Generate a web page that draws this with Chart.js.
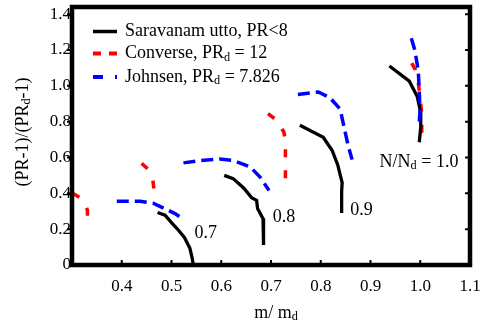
<!DOCTYPE html>
<html>
<head>
<meta charset="utf-8">
<script src="https://cdn.jsdelivr.net/npm/chart.js@4"></script>
<style>
  body { margin: 0; background: #fff; }
  #wrap { width: 481px; height: 326px; position: relative; }
</style>
</head>
<body>
<div id="wrap"><canvas id="mapChart"></canvas></div>
<script>
// Compressor map data: [m/m_d, (PR-1)/(PR_d-1)]
const speedLabels = ['0.7', '0.8', '0.9', 'N/N_d = 1.0'];

// Saravanamuttoo, PR<8 (black solid)
const sarav07 = [[0.472,0.293],[0.487,0.278],[0.500,0.237],[0.514,0.194],[0.526,0.154],[0.537,0.093],[0.541,0.046],[0.544,0.0]];
const sarav08 = [[0.606,0.500],[0.624,0.482],[0.645,0.430],[0.661,0.376],[0.671,0.361],[0.673,0.315],[0.684,0.259],[0.685,0.185],[0.685,0.111]];
const sarav09 = [[0.758,0.780],[0.805,0.713],[0.823,0.639],[0.834,0.560],[0.843,0.460],[0.842,0.410],[0.842,0.290]];
const sarav10 = [[0.938,1.111],[0.978,1.026],[0.994,0.940],[1.001,0.850],[1.001,0.768],[0.998,0.685]];

// Converse, PR_d = 12 (red dashed)
const conv07 = [[0.301,0.400],[0.316,0.376],[0.326,0.343],[0.331,0.306],[0.331,0.262]];
const conv08 = [[0.440,0.567],[0.452,0.537],[0.460,0.500],[0.463,0.463],[0.465,0.417],[0.465,0.370]];
const conv09 = [[0.694,0.845],[0.708,0.815],[0.718,0.778],[0.726,0.741],[0.729,0.694],[0.729,0.600],[0.729,0.435]];
const conv10 = [[0.983,1.127],[0.990,1.090],[0.996,1.020],[0.999,0.950],[1.003,0.843],[1.003,0.715]];

// Johnsen, PR_d = 7.826 (blue dashed)
const john07 = [[0.390,0.356],[0.437,0.356],[0.463,0.345],[0.490,0.310],[0.507,0.287],[0.523,0.257]];
const john08 = [[0.524,0.570],[0.557,0.583],[0.597,0.592],[0.624,0.583],[0.658,0.548],[0.678,0.491],[0.696,0.416]];
const john09 = [[0.754,0.952],[0.795,0.966],[0.818,0.935],[0.839,0.870],[0.847,0.768],[0.855,0.667],[0.863,0.588]];
const john10 = [[0.982,1.265],[0.989,1.200],[0.996,1.085],[0.998,0.972],[0.9995,0.861],[0.998,0.796]];

// where the speed labels sit, in data units
const labelPos = [[0.569,0.179],[0.726,0.268],[0.882,0.303],[0.9975,0.575]];

const xTicks = [0.4, 0.5, 0.6, 0.7, 0.8, 0.9, 1.0];
const yTicks = [0.2, 0.4, 0.6, 0.8, 1.0, 1.2, 1.4];

const SERIF = '"Liberation Serif", "DejaVu Serif", Tinos, serif';

function toPts(arr) {
    return arr.map(p => ({ x: p[0], y: p[1] }));
}

function curve(arr, color, dash, width) {
    return {
        data: toPts(arr),
        showLine: true,
        borderColor: color,
        borderWidth: width,
        borderDash: dash,
        pointRadius: 0,
        tension: 0,
        fill: false
    };
}

// draw text made of [text, isSubscript] parts, starting at x
function drawParts(ctx, parts, x, y, size) {
    parts.forEach(p => {
        const fs = p[1] ? size * 0.68 : size;
        ctx.font = fs + 'px ' + SERIF;
        ctx.fillText(p[0], x, p[1] ? y + size * 0.22 : y);
        x += ctx.measureText(p[0]).width;
    });
    return x;
}

function partsWidth(ctx, parts, size) {
    let w = 0;
    parts.forEach(p => {
        ctx.font = (p[1] ? size * 0.68 : size) + 'px ' + SERIF;
        w += ctx.measureText(p[0]).width;
    });
    return w;
}

const decorPlugin = {
    id: 'decor',
    afterDatasetsDraw(chart) {
        const ctx = chart.ctx;
        const a = chart.chartArea;
        const xs = chart.scales.x, ys = chart.scales.y;
        ctx.save();
        ctx.fillStyle = '#000';
        ctx.strokeStyle = '#000';
        ctx.textBaseline = 'middle';

        // speed labels
        labelPos.forEach((p, i) => {
            const px = xs.getPixelForValue(p[0]), py = ys.getPixelForValue(p[1]);
            let parts = [[speedLabels[i], false]];
            if (i === 3) parts = [['N/N', false], ['d', true], [' = 1.0', false]];
            const w = partsWidth(ctx, parts, 18);
            ctx.textAlign = 'left';
            drawParts(ctx, parts, px - w / 2, py, 18);
        });

        // legend
        const legend = [
            { parts: [['Saravanam utto, PR<8', false]], color: '#000', dash: [] },
            { parts: [['Converse, PR', false], ['d', true], [' = 12', false]], color: '#ff0000', dash: [8, 8] },
            { parts: [['Johnsen, PR', false], ['d', true], [' = 7.826', false]], color: '#0000ff', dash: [10, 12] }
        ];
        const rowY = [31.5, 53.5, 77];
        legend.forEach((item, i) => {
            ctx.beginPath();
            ctx.setLineDash(item.dash);
            ctx.lineWidth = i === 0 ? 3.5 : 4;
            ctx.strokeStyle = item.color;
            ctx.moveTo(93, rowY[i]);
            ctx.lineTo(117, rowY[i]);
            ctx.stroke();
            ctx.setLineDash([]);
            ctx.textAlign = 'left';
            drawParts(ctx, item.parts, 125, rowY[i], 18);
        });

        // frame and tick marks
        ctx.strokeStyle = '#000';
        ctx.lineWidth = 4.5;
        ctx.strokeRect(a.left, a.top, a.right - a.left, a.bottom - a.top);
        ctx.lineWidth = 2;
        ctx.beginPath();
        xTicks.forEach(v => {
            const px = xs.getPixelForValue(v);
            ctx.moveTo(px, a.bottom);
            ctx.lineTo(px, a.bottom - 5);
        });
        yTicks.forEach(v => {
            const py = ys.getPixelForValue(v);
            ctx.moveTo(a.right, py);
            ctx.lineTo(a.right - 5, py);
            ctx.moveTo(a.left, py);
            ctx.lineTo(a.left - 5, py);
        });
        ctx.stroke();

        // axis titles
        ctx.fillStyle = '#000';
        const xt = [['m/ m', false], ['d', true]];
        const xw = partsWidth(ctx, xt, 18);
        drawParts(ctx, xt, 276 - xw / 2, 313, 18);

        const yt = [['(PR-1)/(PR', false], ['d', true], ['-1)', false]];
        ctx.translate(23, 132);
        ctx.rotate(-Math.PI / 2);
        const yw = partsWidth(ctx, yt, 18);
        drawParts(ctx, yt, -yw / 2, 0, 18);
        ctx.restore();
    }
};

const RED = '#ff0000', BLUE = '#0000ff', BLACK = '#000000';
const redDash = [8, 13], blueDash = [12, 6];

new Chart(document.getElementById('mapChart'), {
    type: 'scatter',
    data: {
        datasets: [
            curve(john07, BLUE, blueDash, 3.5),
            curve(john08, BLUE, blueDash, 3.5),
            curve(john09, BLUE, blueDash, 3.5),
            curve(john10, BLUE, blueDash, 3.5),
            curve(sarav07, BLACK, [], 3.3),
            curve(sarav08, BLACK, [], 3.3),
            curve(sarav09, BLACK, [], 3.3),
            curve(sarav10, BLACK, [], 3.3),
            curve(conv07, RED, redDash, 3.5),
            curve(conv08, RED, redDash, 3.5),
            curve(conv09, RED, redDash, 3.5),
            curve(conv10, RED, redDash, 3.5)
        ]
    },
    options: {
        responsive: true,
        maintainAspectRatio: false,
        animation: false,
        layout: { padding: { top: 7, right: 11, left: 0, bottom: 0 } },
        plugins: {
            legend: { display: false },
            tooltip: { enabled: false }
        },
        scales: {
            x: {
                type: 'linear',
                min: 0.3,
                max: 1.1,
                grid: { display: false, drawTicks: false },
                border: { display: false },
                ticks: {
                    stepSize: 0.1,
                    includeBounds: false,
                    padding: 11,
                    color: '#000',
                    maxRotation: 0,
                    autoSkip: false,
                    font: { family: SERIF, size: 17 },
                    callback: v => (v < 0.35 ? null : v.toFixed(1))
                },
                afterFit: s => { s.height = 61; s.paddingLeft = 0; s.paddingRight = 0; }
            },
            y: {
                type: 'linear',
                min: 0,
                max: 1.44,
                grid: { display: false, drawTicks: false },
                border: { display: false },
                ticks: {
                    stepSize: 0.2,
                    includeBounds: false,
                    padding: 1,
                    color: '#000',
                    font: { family: SERIF, size: 17 },
                    callback: v => (v === 0 ? '0' : v.toFixed(1))
                },
                afterFit: s => { s.width = 72; s.paddingTop = 0; s.paddingBottom = 0; }
            }
        }
    },
    plugins: [decorPlugin]
});
</script>
</body>
</html>
